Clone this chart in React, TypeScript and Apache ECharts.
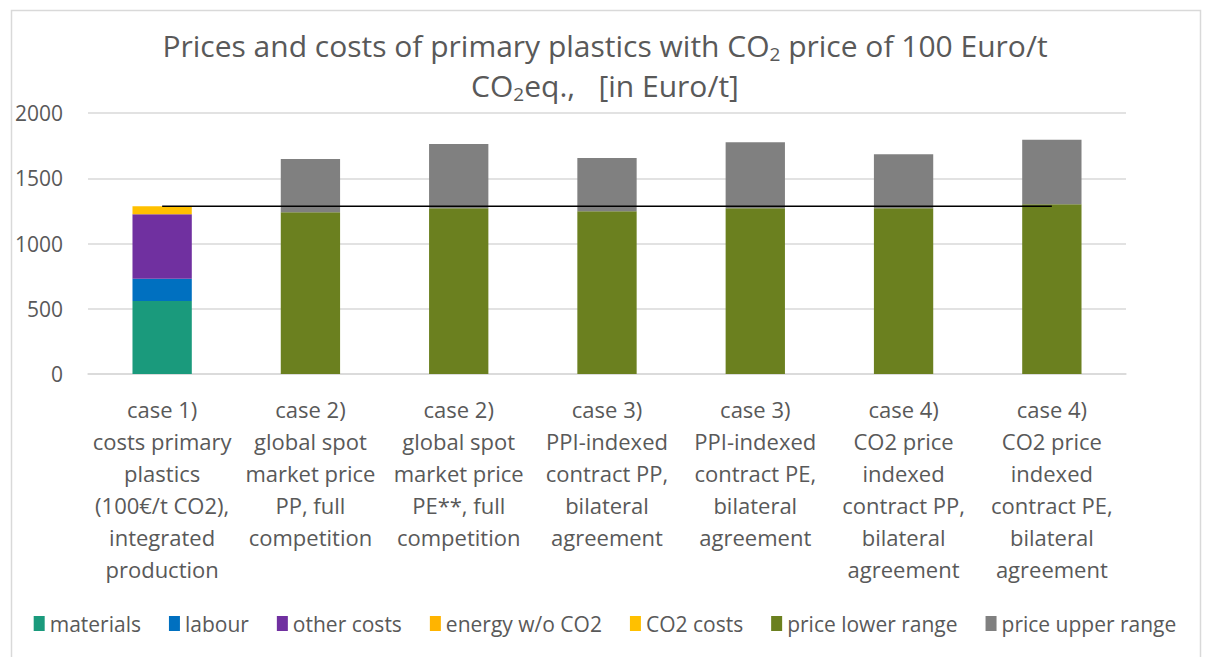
import React, { useEffect, useRef } from "react";
import * as echarts from "echarts";

const categories = [
  "case 1)\ncosts primary\nplastics\n(100€/t CO2),\nintegrated\nproduction",
  "case 2)\nglobal spot\nmarket price\nPP, full\ncompetition",
  "case 2)\nglobal spot\nmarket price\nPE**, full\ncompetition",
  "case 3)\nPPI-indexed\ncontract PP,\nbilateral\nagreement",
  "case 3)\nPPI-indexed\ncontract PE,\nbilateral\nagreement",
  "case 4)\nCO2 price\nindexed\ncontract PP,\nbilateral\nagreement",
  "case 4)\nCO2 price\nindexed\ncontract PE,\nbilateral\nagreement",
];

const materials = [560, null, null, null, null, null, null];
const labour = [170, null, null, null, null, null, null];
const otherCosts = [495, null, null, null, null, null, null];
const energyWoCO2 = [0, null, null, null, null, null, null];
const co2Costs = [60, null, null, null, null, null, null];
const priceLower = [null, 1240, 1270, 1247, 1270, 1270, 1300];
const priceUpper = [null, 408, 492, 408, 505, 413, 495];
const costLine = [1285, 1285, 1285, 1285, 1285, 1285, 1285];

const yTicks = { min: 0, max: 2000, interval: 500 };

const FONT = "'Open Sans', 'Noto Sans', sans-serif";
const TXT = "#595959";

export default function App() {
  const ref = useRef<HTMLDivElement>(null);
  useEffect(() => {
    if (!ref.current) return;
    const chart = echarts.init(ref.current, null, { renderer: "svg" });
    const bar = (name: string, data: any[], color: string) => ({
      name,
      type: "bar",
      stack: "s",
      data,
      barWidth: "40%",
      itemStyle: { color },
    });
    chart.setOption({
      animation: false,
      backgroundColor: "#ffffff",
      textStyle: { fontFamily: FONT },
      title: {
        text:
          "Prices and costs of primary plastics with CO{sub|2} price of 100 Euro/t\nCO{sub|2}eq.,   [in Euro/t]",
        left: "center",
        top: 20,
        textStyle: {
          fontFamily: FONT,
          fontSize: 30,
          fontWeight: "normal",
          color: TXT,
          lineHeight: 40,
          rich: {
            sub: { fontSize: 19, color: TXT, fontFamily: FONT, padding: [18, 0, 0, 0] },
          },
        },
      },
      graphic: [
        {
          type: "rect",
          left: 9,
          top: 8,
          shape: { width: 1189, height: 700 },
          style: { fill: "none", stroke: "#D9D9D9", lineWidth: 1.5 },
          silent: true,
        },
      ],
      legend: {
        bottom: 18,
        left: "center",
        itemWidth: 11,
        itemHeight: 15,
        itemGap: 28,
        icon: "rect",
        textStyle: { fontFamily: FONT, fontSize: 21, color: TXT, padding: [0, 0, 0, 0] },
        data: [
          "materials",
          "labour",
          "other costs",
          "energy w/o CO2",
          "CO2 costs",
          "price lower range",
          "price upper range",
        ],
      },
      grid: { left: 88, right: 84, top: 113, bottom: 283, containLabel: false },
      xAxis: {
        type: "category",
        data: categories,
        axisLine: { lineStyle: { color: "#D9D9D9", width: 1.5 } },
        axisTick: { show: false },
        axisLabel: {
          interval: 0,
          color: TXT,
          fontFamily: FONT,
          fontSize: 22,
          lineHeight: 32,
          margin: 19,
        },
      },
      yAxis: {
        type: "value",
        min: yTicks.min,
        max: yTicks.max,
        interval: yTicks.interval,
        axisLine: { show: false },
        axisTick: { show: false },
        splitLine: { lineStyle: { color: "#D9D9D9", width: 1.5 } },
        axisLabel: {
          color: TXT,
          fontFamily: FONT,
          fontSize: 21,
          margin: 25,
          formatter: (v: number) => String(v),
        },
      },
      series: [
        bar("materials", materials, "#1A9A7C"),
        bar("labour", labour, "#0070C0"),
        bar("other costs", otherCosts, "#7030A0"),
        bar("energy w/o CO2", energyWoCO2, "#FFB400"),
        bar("CO2 costs", co2Costs, "#FFC000"),
        bar("price lower range", priceLower, "#6B801F"),
        bar("price upper range", priceUpper, "#808080"),
        {
          name: "cost line",
          type: "line",
          data: costLine,
          symbol: "none",
          lineStyle: { color: "#000000", width: 1.5 },
          z: 5,
        },
      ],
    });
    return () => chart.dispose();
  }, []);
  return (
    <div
      ref={ref}
      style={{ position: "fixed", left: 0, top: 0, width: 1210, height: 657 }}
    />
  );
}
